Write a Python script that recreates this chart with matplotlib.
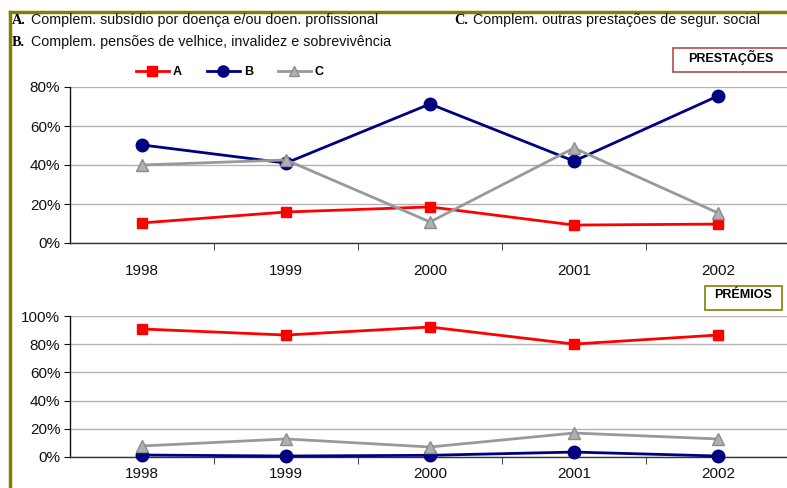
import matplotlib.pyplot as plt
from matplotlib.patches import Rectangle
from matplotlib.lines import Line2D
from matplotlib.ticker import PercentFormatter

# Data
years = ['1998', '1999', '2000', '2001', '2002']

prest_a = [10.3, 15.9, 18.5, 9.2, 9.7]
prest_b = [50.3, 41.0, 71.3, 42.0, 75.4]
prest_c = [40.0, 42.6, 10.8, 48.7, 15.4]

prem_a = [90.8, 86.5, 92.2, 80.1, 86.5]
prem_b = [1.4, 0.7, 1.2, 3.5, 0.7]
prem_c = [7.8, 12.8, 7.1, 17.0, 12.8]

labels = ['A', 'B', 'C']
header_a = 'Complem. subsídio por doença e/ou doen. profissional'
header_b = 'Complem. pensões de velhice, invalidez e sobrevivência'
header_c = 'Complem. outras prestações de segur. social'

W, H = 787, 488
RED = '#FF0000'
NAVY = '#000080'
GREY = '#999999'
OLIVE = '#808000'

plt.rcParams['font.family'] = ['Liberation Sans', 'DejaVu Sans']

fig = plt.figure(figsize=(W / 100, H / 100), dpi=100)
fig.patch.set_facecolor('white')


def px(x, y):
    # pixel coords (top-left origin) -> figure fraction
    return x / W, 1 - y / H


def style_axis(ax, ymax, step, xpad):
    ax.set_xlim(-0.5, len(years) - 0.5)
    ax.set_ylim(0, ymax)
    ax.set_yticks(list(range(0, int(ymax) + 1, step)))
    ax.yaxis.set_major_formatter(PercentFormatter(decimals=0))
    ax.set_xticks(range(len(years)))
    ax.set_xticklabels(years)
    ax.set_xticks([i + 0.5 for i in range(len(years) - 1)], minor=True)
    ax.tick_params(axis='x', which='major', length=0, pad=xpad, labelsize=11, colors='#111111')
    ax.tick_params(axis='x', which='minor', length=5, direction='out', color='#222222')
    ax.tick_params(axis='y', length=4, direction='out', labelsize=11, colors='#111111', pad=3)
    ax.grid(axis='y', color='#B3B3B3', linewidth=1.0)
    ax.set_axisbelow(True)
    for s in ['top', 'right']:
        ax.spines[s].set_visible(False)
    ax.spines['left'].set_color('#111111')
    ax.spines['bottom'].set_color('#333333')
    ax.spines['left'].set_linewidth(1.0)
    ax.spines['bottom'].set_linewidth(1.0)


def draw_series(ax, a, b, c):
    x = range(len(years))
    ax.plot(x, a, color=RED, lw=2, marker='s', ms=7, mfc=RED, mec=RED, zorder=3, clip_on=False)
    ax.plot(x, b, color=NAVY, lw=2, marker='o', ms=9, mfc=NAVY, mec=NAVY, zorder=3, clip_on=False)
    ax.plot(x, c, color=GREY, lw=2, marker='^', ms=8, mfc='#B0B0B0', mec='#8C8C8C', zorder=4, clip_on=False)


# top panel: PRESTAÇÕES
l, t = px(70, 87)
_, b = px(70, 243)
ax1 = fig.add_axes([l, b, 720 / W, t - b])
draw_series(ax1, prest_a, prest_b, prest_c)
style_axis(ax1, 80, 20, 15)

# bottom panel: PRÉMIOS
l, t = px(70, 316)
_, b = px(70, 457)
ax2 = fig.add_axes([l, b, 720 / W, t - b])
draw_series(ax2, prem_a, prem_b, prem_c)
style_axis(ax2, 100, 20, 7)

# legend
handles = [
    Line2D([], [], color=RED, lw=2, marker='s', ms=7, mfc=RED, mec=RED),
    Line2D([], [], color=NAVY, lw=2, marker='o', ms=8, mfc=NAVY, mec=NAVY),
    Line2D([], [], color=GREY, lw=2, marker='^', ms=7, mfc='#B0B0B0', mec='#8C8C8C'),
]
fig.legend(handles, labels, loc='center', bbox_to_anchor=px(230, 72), ncol=3,
           frameon=False, prop={'weight': 'bold', 'size': 9},
           handlelength=2.6, handletextpad=0.35, columnspacing=2.0)

# header texts
serif = ['Liberation Serif', 'DejaVu Serif']
for (x0, y0, key, txt) in [(12, 20, 'A.', header_a), (12, 42, 'B.', header_b), (454, 20, 'C.', header_c)]:
    fig.text(*px(x0, y0), key, family=serif, weight='bold', fontsize=10.3, va='center', ha='left')
    fig.text(*px(x0 + 19, y0), txt, fontsize=10.3, va='center', ha='left', color='#111111')

# label boxes
x0, y0 = px(673, 72)
x1, y1 = px(790, 48)
fig.patches.append(Rectangle((x0, y0), x1 - x0, y1 - y0, transform=fig.transFigure,
                             facecolor='white', edgecolor='#B84A4A', lw=1.2))
fig.text(*px(731, 57), 'PRESTAÇÕES', fontsize=9, weight='bold', ha='center', va='center')

x0, y0 = px(705, 310)
x1, y1 = px(782, 286)
fig.patches.append(Rectangle((x0, y0), x1 - x0, y1 - y0, transform=fig.transFigure,
                             facecolor='white', edgecolor=OLIVE, lw=1.2))
fig.text(*px(743, 295), 'PRÉMIOS', fontsize=9, weight='bold', ha='center', va='center')

# olive frame
fig.add_artist(Line2D([10 / W, 10 / W], [0, 1 - 12 / H], transform=fig.transFigure, color=OLIVE, lw=2.5))
fig.add_artist(Line2D([10 / W, 1], [1 - 12 / H, 1 - 12 / H], transform=fig.transFigure, color=OLIVE, lw=2.5))

fig.savefig('out.png', dpi=100, facecolor='white')
